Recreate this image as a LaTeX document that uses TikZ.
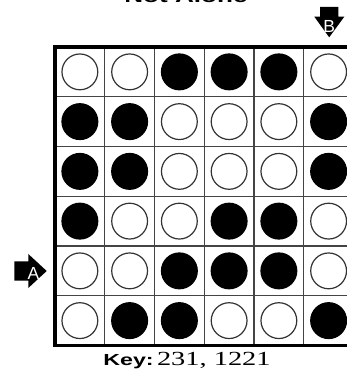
\documentclass[tikz,border=0pt]{standalone}
\usepackage{xcolor}
\usepackage{fontspec}
\setmainfont{Liberation Serif}
\setsansfont{Liberation Sans}
\newfontfamily\widesans[FakeStretch=1.45]{Liberation Sans}
\newfontfamily\wideserif[FakeStretch=1.42]{Liberation Serif}
\usepackage{tikz}
\definecolor{Ink}{HTML}{000000}
\definecolor{Rim}{HTML}{333333}
\definecolor{GridLine}{HTML}{444444}

\begin{document}
\begin{tikzpicture}[
  x=1pt, y=1pt,
  stone/.style={circle, minimum size=35.8pt, inner sep=0pt, line width=1.2pt},
  stone0/.style={stone, draw=Rim, fill=white},
  stone1/.style={stone, draw=Ink, fill=Ink},
  cellline/.style={draw=GridLine, line width=1.1pt},
  border/.style={draw=Ink, line width=3.5pt},
  marker/.style={font=\sffamily\fontsize{17.5}{17.5}\selectfont, text=white, inner sep=0pt},
  pointer/.style={fill=Ink}
]
  \fill[white] (0,0) rectangle (347,385);
  \begin{pgfinterruptboundingbox}
  \begin{scope}
  \clip (0,0) rectangle (347,385);

  % title, cut by the frame
  \node[font=\widesans\bfseries\fontsize{18}{20}\selectfont, anchor=base] (title) at (186,382) {Not Alone};

  % board, open at the right edge
  \foreach \i in {1,...,5} {
    \draw[cellline] (55+\i*49.75,39.5) -- (55+\i*49.75,338);
    \draw[cellline] (55,39.5+\i*49.75) -- (347,39.5+\i*49.75);
  }
  \draw[border] (347,338) -- (55,338) -- (55,39.5) -- (347,39.5);

  \foreach \row [count=\r] in {{0,0,1,1,1,0},{1,1,0,0,0,1},{1,1,0,0,0,1},{1,0,0,1,1,0},{0,0,1,1,1,0},{0,1,1,0,0,1}} {
    \foreach \v [count=\c] in \row {
      \node[stone\v] (s-\r-\c) at (55+\c*49.75-24.875, 338-\r*49.75+24.875) {};
    }
  }
  \end{scope}
  \end{pgfinterruptboundingbox}

  % entry A
  \fill[pointer] (14.3,104.3) -- (28.3,104.3) -- (28.3,97) -- (46.7,114)
    -- (28.3,131) -- (28.3,123.7) -- (14.3,123.7) -- cycle;
  \node[marker] (entryA) at (33.5,111.5) {A};

  % entry B
  \fill[pointer] (320,378) -- (338.3,378) -- (338.3,368.3) -- (344.3,368.3)
    -- (329.2,347.7) -- (314.3,368.3) -- (320,368.3) -- cycle;
  \node[marker] (entryB) at (329.2,359) {B};

  % key line
  \node[anchor=base] (key) at (187,19)
    {{\widesans\bfseries\fontsize{16}{18}\selectfont Key:} {\wideserif\fontsize{20}{22}\selectfont 231, 1221}};
\end{tikzpicture}
\end{document}
